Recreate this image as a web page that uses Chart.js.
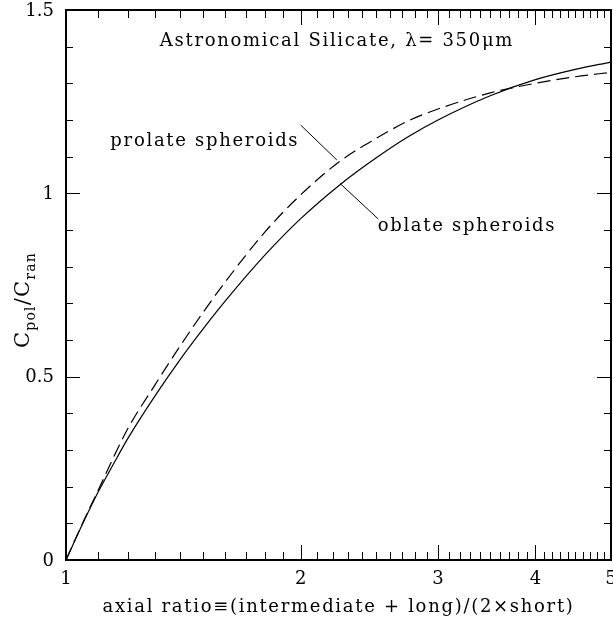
<!DOCTYPE html>
<html>
<head>
<meta charset="utf-8">
<script src="https://cdn.jsdelivr.net/npm/chart.js@4/dist/chart.umd.min.js"></script>
<style>
html, body { margin: 0; padding: 0; background: #fff; }
canvas { display: block; }
</style>
</head>
<body>
<canvas id="grafica" width="613" height="622"></canvas>
<script>
// datos
var razon_axial = [1, 1.05, 1.1, 1.15, 1.2, 1.3, 1.4, 1.5, 1.6, 1.8, 2, 2.25, 2.5, 2.75, 3, 3.5, 4, 4.5, 5]
var valores_oblate = [0, 0.098, 0.186, 0.261, 0.331, 0.447, 0.546, 0.631, 0.706, 0.832, 0.931, 1.025, 1.097, 1.155, 1.200, 1.266, 1.310, 1.338, 1.358]
var valores_prolate = [0, 0.100, 0.191, 0.279, 0.358, 0.477, 0.583, 0.676, 0.758, 0.895, 0.996, 1.089, 1.150, 1.198, 1.230, 1.274, 1.300, 1.318, 1.330]
var etiquetas_x = [1, 2, 3, 4, 5]
var etiquetas_y = [0, 0.5, 1, 1.5]

var fuente = "'DejaVu Serif', serif"
var titulo_grafica = "Astronomical Silicate, \u03bb= 350\u03bcm"
var titulo_x = "axial ratio\u2261(intermediate + long)/(2\u00d7short)"

function puntos(xs, ys) {
    var lista = []
    xs.forEach(function (x, i) { lista.push({ x: x, y: ys[i] }) })
    return lista
}

// marcas de los ejes, marco y textos
var decoracion = {
    id: "decoracion",
    afterDraw: function (chart) {
        var ctx = chart.ctx, area = chart.chartArea
        var sx = chart.scales.x, sy = chart.scales.y
        ctx.save()
        ctx.strokeStyle = "#000"
        ctx.fillStyle = "#000"
        ctx.lineWidth = 1
        ctx.beginPath()
        for (var i = 10; i <= 50; i++) {
            var px = Math.round(sx.getPixelForValue(i / 10)) + 0.5
            var largo = (i % 10 == 0) ? 15 : 8
            ctx.moveTo(px, area.bottom); ctx.lineTo(px, area.bottom - largo)
            ctx.moveTo(px, area.top); ctx.lineTo(px, area.top + largo)
        }
        for (var j = 0; j <= 15; j++) {
            var py = Math.round(sy.getPixelForValue(j / 10)) + 0.5
            var largo_y = (j % 5 == 0) ? 14 : 7
            ctx.moveTo(area.left, py); ctx.lineTo(area.left + largo_y, py)
            ctx.moveTo(area.right, py); ctx.lineTo(area.right - largo_y, py)
        }
        ctx.stroke()
        ctx.lineWidth = 2
        ctx.strokeRect(area.left, area.top, area.right - area.left, area.bottom - area.top)

        // lineas guia de las etiquetas
        ctx.lineWidth = 1
        ctx.beginPath()
        ctx.moveTo(sx.getPixelForValue(2.0), sy.getPixelForValue(1.186))
        ctx.lineTo(sx.getPixelForValue(2.225), sy.getPixelForValue(1.091))
        ctx.moveTo(sx.getPixelForValue(2.246), sy.getPixelForValue(1.027))
        ctx.lineTo(sx.getPixelForValue(2.515), sy.getPixelForValue(0.93))
        ctx.stroke()

        ctx.font = "18px " + fuente
        ctx.letterSpacing = "1.7px"
        ctx.textBaseline = "middle"
        ctx.textAlign = "center"
        ctx.fillText(titulo_grafica, sx.getPixelForValue(2.226), sy.getPixelForValue(1.415))
        ctx.fillText(titulo_x, (area.left + area.right) / 2, 607)
        ctx.textAlign = "left"
        ctx.fillText("prolate spheroids", sx.getPixelForValue(1.14), sy.getPixelForValue(1.143))
        ctx.fillText("oblate spheroids", sx.getPixelForValue(2.51), sy.getPixelForValue(0.911))

        // titulo del eje y con subindices
        ctx.translate(22, 300)
        ctx.rotate(-Math.PI / 2)
        ctx.letterSpacing = "1.2px"
        var partes = [["C", 21, 0], ["pol", 14, 6], ["/", 21, 0], ["C", 21, 0], ["ran", 14, 6]]
        var total = 0
        partes.forEach(function (p) { ctx.font = p[1] + "px " + fuente; total += ctx.measureText(p[0]).width })
        var cursor = -total / 2
        ctx.textAlign = "left"
        ctx.textBaseline = "alphabetic"
        partes.forEach(function (p) {
            ctx.font = p[1] + "px " + fuente
            ctx.fillText(p[0], cursor, 7 + p[2])
            cursor += ctx.measureText(p[0]).width
        })
        ctx.restore()
    }
}

var carga = {
    type: "line",
    data: {
        datasets: [{
            label: "oblate spheroids",
            data: puntos(razon_axial, valores_oblate),
            borderColor: "#000",
            borderWidth: 1.2,
            pointRadius: 0,
            cubicInterpolationMode: "monotone"
        },
        {
            label: "prolate spheroids",
            data: puntos(razon_axial, valores_prolate),
            borderColor: "#000",
            borderWidth: 1.2,
            borderDash: [13, 6],
            pointRadius: 0,
            cubicInterpolationMode: "monotone"
        }]
    },
    options: {
        responsive: false,
        animation: false,
        devicePixelRatio: 1,
        layout: { padding: { top: 10, right: 2, left: 0, bottom: 0 } },
        plugins: { legend: { display: false }, tooltip: { enabled: false } },
        scales: {
            x: {
                type: "logarithmic",
                min: 1, max: 5,
                grid: { display: false, drawTicks: false },
                border: { display: false },
                afterBuildTicks: function (s) { s.ticks = etiquetas_x.map(function (v) { return { value: v } }) },
                afterFit: function (s) { s.height = 62; s.paddingLeft = 0; s.paddingRight = 0 },
                ticks: {
                    autoSkip: false, maxRotation: 0, padding: 9,
                    color: "#000", font: { family: fuente, size: 18 },
                    callback: function (v) { return String(v) }
                }
            },
            y: {
                min: 0, max: 1.5,
                grid: { display: false, drawTicks: false },
                border: { display: false },
                afterBuildTicks: function (s) { s.ticks = etiquetas_y.map(function (v) { return { value: v } }) },
                afterFit: function (s) { s.width = 66; s.paddingTop = 0; s.paddingBottom = 0 },
                ticks: {
                    padding: 12, labelOffset: 1, color: "#000", font: { family: fuente, size: 18 },
                    callback: function (v) { return String(v) }
                }
            }
        }
    },
    plugins: [decoracion]
}

var grafica = new Chart(document.getElementById("grafica"), carga)
</script>
</body>
</html>
